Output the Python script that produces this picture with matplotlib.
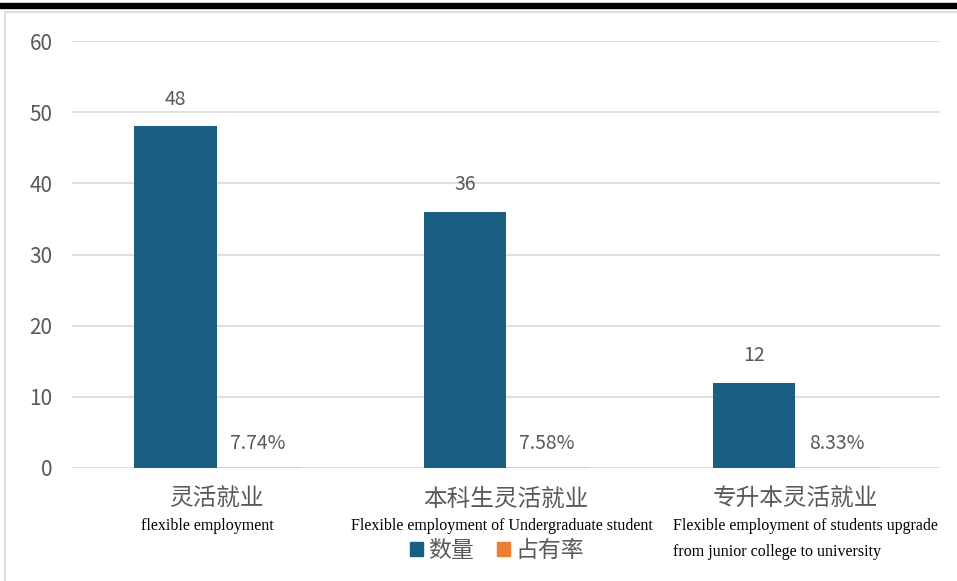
import matplotlib.pyplot as plt
from matplotlib.patches import Rectangle
import numpy as np

plt.rcParams['font.family'] = ['Noto Sans CJK SC', 'DejaVu Sans']

categories = ['灵活就业', '本科生灵活就业', '专升本灵活就业']
categories_en = ['flexible employment',
                 'Flexible employment of Undergraduate student',
                 'Flexible employment of students upgrade\nfrom junior college to university']
en_shift = [-7, -3, 7]  # points, horizontal nudge of the English captions
counts = [48, 36, 12]
shares = [7.74, 7.58, 8.33]  # percent

blue = '#1A5E82'
orange = '#ED7D31'
gray_text = '#595959'
grid_color = '#D9D9D9'

fig = plt.figure(figsize=(9.57, 5.81), dpi=100)
ax = fig.add_axes([72 / 957, 113 / 581, 868 / 957, 427 / 581])

x = np.arange(len(categories))
w = 0.284
b1 = ax.bar(x - w / 2, counts, width=w, color=blue, zorder=3)
b2 = ax.bar(x + w / 2, [s / 100 for s in shares], width=w, color=orange,
            edgecolor='#F4C7AA', linewidth=0.6, zorder=3)

ax.bar_label(b1, labels=[str(c) for c in counts], padding=12,
             fontsize=14, color=gray_text)
ax.bar_label(b2, labels=['%.2f%%' % s for s in shares], padding=10,
             fontsize=14, color=gray_text)

ax.set_xlim(-0.5, len(categories) - 0.5)
ax.set_ylim(0, 60)
ax.set_yticks(range(0, 61, 10))
ax.grid(axis='y', color=grid_color, linewidth=1.2, zorder=0)
for s in ax.spines.values():
    s.set_visible(False)
ax.tick_params(axis='both', length=0)
ax.tick_params(axis='y', labelsize=15, labelcolor=gray_text, pad=14)
ax.set_xticks(x)
ax.set_xticklabels(categories, fontsize=17, color=gray_text)
ax.tick_params(axis='x', pad=14)

for i, lab in enumerate(categories_en):
    ax.annotate(lab, xy=(i, 0), xycoords=('data', 'axes fraction'),
                xytext=(en_shift[i], -36), textcoords='offset points',
                ha='center', va='top', multialignment='left',
                family='Liberation Serif', fontsize=11.5, color='black',
                linespacing=1.8)

handles = [Rectangle((0, 0), 1, 1, color=blue), Rectangle((0, 0), 1, 1, color=orange)]
fig.legend(handles, ['数量', '占有率'], loc='center', bbox_to_anchor=(497 / 957, 0.053),
           ncol=2, frameon=False, fontsize=16.5, labelcolor=gray_text,
           handlelength=0.55, handleheight=0.55, handletextpad=0.25, columnspacing=1.0)

# outer frame and top band
fig.add_artist(Rectangle((0, 1 - 8 / 581), 1, 5 / 581, transform=fig.transFigure,
                         color='black', zorder=5))
fig.add_artist(plt.Line2D([5 / 957, 1], [1 - 12 / 581, 1 - 12 / 581],
                          transform=fig.transFigure, color=grid_color, linewidth=1.2))
fig.add_artist(plt.Line2D([5 / 957, 5 / 957], [0, 1 - 12 / 581],
                          transform=fig.transFigure, color=grid_color, linewidth=1.2))

fig.savefig('out.png', dpi=100)
